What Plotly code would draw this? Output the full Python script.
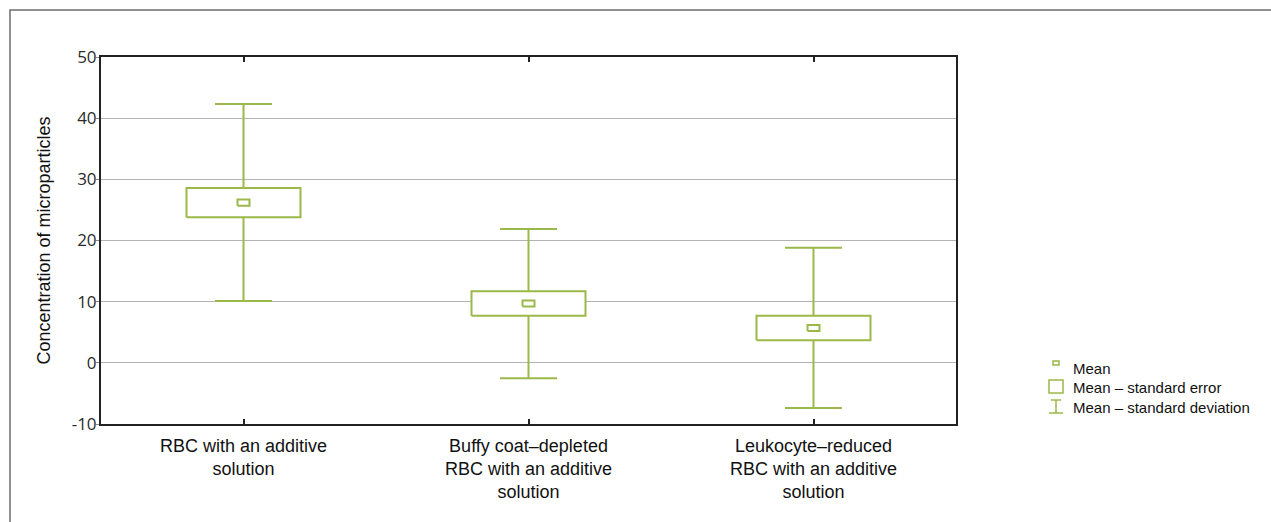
import plotly.graph_objects as go

# Group labels and summary statistics (mean, standard error, standard deviation)
categories = [
    "RBC with an additive<br>solution",
    "Buffy coat–depleted<br>RBC with an additive<br>solution",
    "Leukocyte–reduced<br>RBC with an additive<br>solution",
]
means = [26.2, 9.7, 5.7]
std_errors = [2.4, 2.0, 2.0]
std_devs = [16.1, 12.2, 13.1]

y_tick_vals = [-10, 0, 10, 20, 30, 40, 50]
y_tick_text = ["-10", "0", "10", "20", "30", "40", "50"]

GREEN = "#9bb84a"
LINE_W = 2
BOX_HALF = 0.2      # half width of the standard-error box (x units)
CAP_HALF = 0.1      # half width of the whisker caps
MEAN_HALF_X = 0.021
MEAN_HALF_Y = 0.5

# page geometry (pixels) used for the plotting area and overlay elements
W, H = 1271, 522
L, R, T, B = 101, 315, 57, 98
PW, PH = W - L - R, H - T - B


def px_x(p):
    return (p - L) / PW


def px_y(p):
    return (H - B - p) / PH


fig = go.Figure()

xs = list(range(len(categories)))

# whiskers: mean ± SD, drawn outside the SE box, with caps
wx, wy = [], []
for x, m, se, sd in zip(xs, means, std_errors, std_devs):
    lo_sd, hi_sd = m - sd, m + sd
    lo_se, hi_se = m - se, m + se
    wx += [x, x, None, x, x, None,
           x - CAP_HALF, x + CAP_HALF, None, x - CAP_HALF, x + CAP_HALF, None]
    wy += [hi_se, hi_sd, None, lo_se, lo_sd, None,
           hi_sd, hi_sd, None, lo_sd, lo_sd, None]
fig.add_trace(go.Scatter(x=wx, y=wy, mode="lines",
                         line=dict(color=GREEN, width=LINE_W),
                         hoverinfo="skip", showlegend=False))

# SE boxes (white filled) and mean markers
for x, m, se in zip(xs, means, std_errors):
    fig.add_trace(go.Scatter(
        x=[x - BOX_HALF, x + BOX_HALF, x + BOX_HALF, x - BOX_HALF, x - BOX_HALF],
        y=[m - se, m - se, m + se, m + se, m - se],
        mode="lines", fill="toself", fillcolor="white",
        line=dict(color=GREEN, width=LINE_W),
        hoverinfo="skip", showlegend=False))
    fig.add_trace(go.Scatter(
        x=[x - MEAN_HALF_X, x + MEAN_HALF_X, x + MEAN_HALF_X, x - MEAN_HALF_X, x - MEAN_HALF_X],
        y=[m - MEAN_HALF_Y, m - MEAN_HALF_Y, m + MEAN_HALF_Y, m + MEAN_HALF_Y, m - MEAN_HALF_Y],
        mode="lines", fill="toself", fillcolor="white",
        line=dict(color=GREEN, width=LINE_W),
        hoverinfo="skip", showlegend=False))

shapes = []
# outer frame around the figure
shapes.append(dict(type="rect", xref="paper", yref="paper",
                   x0=px_x(10), x1=px_x(W + 20), y0=px_y(H + 20), y1=px_y(10),
                   line=dict(color="#6e6e6e", width=1.5), layer="below"))

# hand-built legend
annotations = []
leg_text_x = px_x(1071)
# mean symbol
shapes.append(dict(type="rect", xref="paper", yref="paper",
                   x0=px_x(1053), x1=px_x(1059), y0=px_y(365), y1=px_y(361),
                   line=dict(color=GREEN, width=1.5), fillcolor="white"))
# standard error symbol
shapes.append(dict(type="rect", xref="paper", yref="paper",
                   x0=px_x(1049), x1=px_x(1063), y0=px_y(393), y1=px_y(380),
                   line=dict(color=GREEN, width=1.5), fillcolor="white"))
# standard deviation symbol
shapes.append(dict(type="line", xref="paper", yref="paper",
                   x0=px_x(1056), x1=px_x(1056), y0=px_y(413), y1=px_y(400),
                   line=dict(color=GREEN, width=1.5)))
shapes.append(dict(type="line", xref="paper", yref="paper",
                   x0=px_x(1051), x1=px_x(1061), y0=px_y(400), y1=px_y(400),
                   line=dict(color=GREEN, width=1.5)))
shapes.append(dict(type="line", xref="paper", yref="paper",
                   x0=px_x(1049), x1=px_x(1063), y0=px_y(413), y1=px_y(413),
                   line=dict(color=GREEN, width=1.5)))

legend_labels = ["Mean", "Mean – standard error", "Mean – standard deviation"]
legend_y = [368, 387, 407]
for lab, yy in zip(legend_labels, legend_y):
    annotations.append(dict(xref="paper", yref="paper", x=leg_text_x, y=px_y(yy),
                            text=lab, showarrow=False, xanchor="left", yanchor="middle",
                            font=dict(family="Liberation Sans, Arial", size=15, color="#111")))

fig.update_layout(
    width=W, height=H,
    margin=dict(l=L, r=R, t=T, b=B, autoexpand=False),
    paper_bgcolor="white", plot_bgcolor="white",
    shapes=shapes, annotations=annotations,
    showlegend=False,
    xaxis=dict(
        range=[-0.5, len(categories) - 0.5],
        tickvals=xs, ticktext=categories,
        ticks="inside", ticklen=5, tickwidth=1.5, tickcolor="#222",
        showline=True, linecolor="#222", linewidth=2, mirror="ticks",
        showgrid=False, zeroline=False,
        ticklabelstandoff=4,
        tickfont=dict(family="Liberation Sans, Arial", size=18, color="#111"),
        fixedrange=True,
    ),
    yaxis=dict(
        range=[-10, 50],
        tickvals=y_tick_vals, ticktext=y_tick_text,
        ticks="outside", ticklen=3, tickcolor="#888", tickwidth=1,
        showline=True, linecolor="#222", linewidth=2, mirror=True,
        showgrid=True, gridcolor="#b4b4b4", gridwidth=1,
        zeroline=False,
        ticklabelstandoff=-4,
        tickfont=dict(family="Open Sans", size=17, color="#2a2a2a"),
        title=dict(text="Concentration of microparticles", standoff=16,
                   font=dict(family="Liberation Sans, Arial", size=18, color="#111")),
        fixedrange=True,
    ),
)

fig.write_html("out.html")
